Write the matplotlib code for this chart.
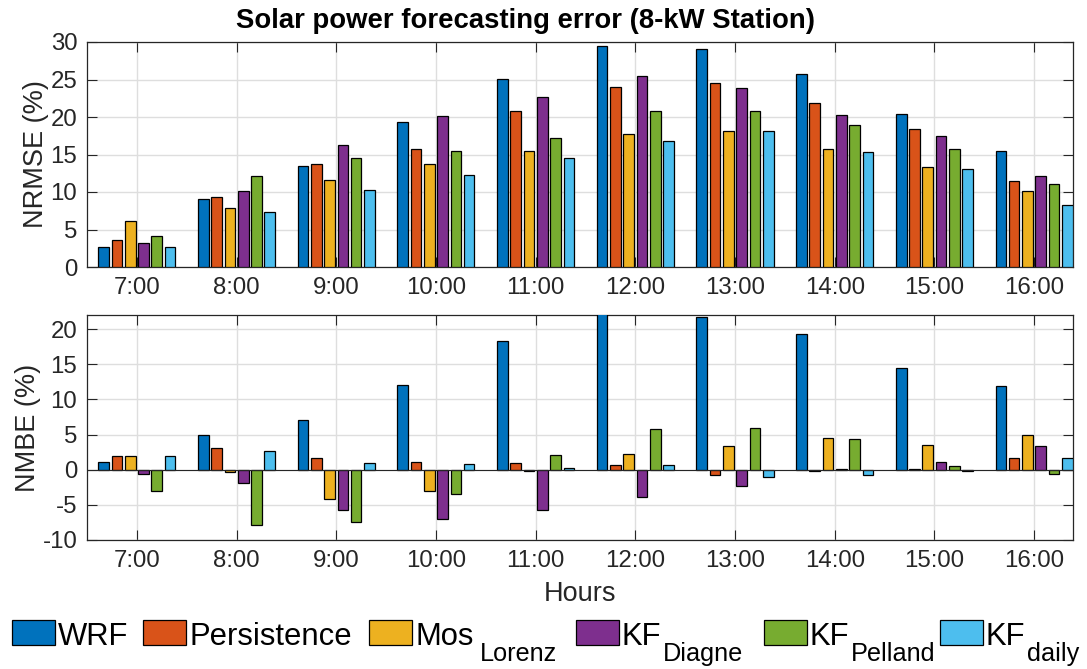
import matplotlib
matplotlib.use("Agg")
import matplotlib.pyplot as plt
from matplotlib.patches import Rectangle
import numpy as np

plt.rcParams['font.family'] = ['Liberation Sans', 'DejaVu Sans']
plt.rcParams['axes.unicode_minus'] = False

hours = ['7:00', '8:00', '9:00', '10:00', '11:00', '12:00', '13:00', '14:00', '15:00', '16:00']
models = ['WRF', 'Persistence', 'Mos', 'KF', 'KF', 'KF']
model_subs = ['', '', 'Lorenz', 'Diagne', 'Pelland', 'daily']
colors = ['#0072BD', '#D95319', '#EDB120', '#7E2F8E', '#77AC30', '#4DBEEE']

# NRMSE (%) per hour, one list per model
nrmse_wrf = [2.7, 9.1, 13.5, 19.4, 25.1, 29.5, 29.1, 25.8, 20.4, 15.5]
nrmse_pers = [3.6, 9.3, 13.8, 15.7, 20.8, 24.0, 24.6, 21.9, 18.4, 11.5]
nrmse_mos = [6.1, 7.9, 11.6, 13.8, 15.5, 17.8, 18.2, 15.8, 13.4, 10.2]
nrmse_kfd = [3.2, 10.1, 16.3, 20.2, 22.7, 25.5, 23.9, 20.3, 17.5, 12.2]
nrmse_kfp = [4.1, 12.2, 14.6, 15.5, 17.2, 20.8, 20.8, 18.9, 15.8, 11.1]
nrmse_kfdaily = [2.7, 7.3, 10.3, 12.3, 14.6, 16.8, 18.1, 15.3, 13.1, 8.3]

# NMBE (%) per hour
nmbe_wrf = [1.1, 4.9, 7.1, 12.1, 18.3, 23.1, 21.7, 19.3, 14.4, 11.9]
nmbe_pers = [2.0, 3.1, 1.6, 1.1, 0.9, 0.7, -0.7, -0.2, 0.03, 1.6]
nmbe_mos = [2.0, -0.3, -4.1, -3.1, -0.15, 2.3, 3.3, 4.5, 3.5, 4.9]
nmbe_kfd = [-0.6, -1.9, -5.8, -7.0, -5.7, -3.9, -2.3, 0.15, 1.1, 3.3]
nmbe_kfp = [-3.0, -7.9, -7.4, -3.4, 2.1, 5.8, 5.9, 4.3, 0.5, -0.6]
nmbe_kfdaily = [1.9, 2.6, 1.0, 0.8, 0.25, 0.7, -1.0, -0.7, -0.25, 1.6]

nrmse = [nrmse_wrf, nrmse_pers, nrmse_mos, nrmse_kfd, nrmse_kfp, nrmse_kfdaily]
nmbe = [nmbe_wrf, nmbe_pers, nmbe_mos, nmbe_kfd, nmbe_kfp, nmbe_kfdaily]

W, H = 1087, 669
fig = plt.figure(figsize=(W / 100, H / 100), dpi=100)
ax1 = fig.add_axes([87 / W, 1 - 267 / H, 986 / W, 225 / H])
ax2 = fig.add_axes([87 / W, 1 - 540 / H, 986 / W, 225 / H])

x = np.arange(1, len(hours) + 1)
step = 0.8 / 6
width = 0.8 * step
dark = '#262626'


def draw_bars(ax, series):
    for i, vals in enumerate(series):
        ax.bar(x + (i - 2.5) * step, vals, width, color=colors[i],
               edgecolor='black', linewidth=0.9, zorder=3)
    ax.set_xlim(0.5, 10.39)
    ax.set_xticks(x)
    ax.set_xticklabels(hours)
    ax.grid(True, color='#dedede', linewidth=1.0)
    ax.set_axisbelow(True)
    ax.tick_params(direction='in', length=7, width=0.8, colors=dark,
                   labelsize=17.3, top=True, right=True, pad=7)
    for s in ax.spines.values():
        s.set_color(dark)
        s.set_linewidth(0.9)


draw_bars(ax1, nrmse)
ax1.set_ylim(0, 30)
ax1.set_yticks(range(0, 31, 5))
ax1.set_ylabel('NRMSE (%)', fontsize=19.5, color=dark, labelpad=1)

draw_bars(ax2, nmbe)
ax2.axhline(0, color=dark, linewidth=0.8, zorder=4)
ax2.set_ylim(-10, 22)
ax2.set_yticks(range(-10, 21, 5))
ax2.set_ylabel('NMBE (%)', fontsize=19.5, color=dark, labelpad=1)
ax2.set_xlabel('Hours', fontsize=19.5, color=dark, labelpad=7)

fig.text(526 / W, 1 - 21 / H, 'Solar power forecasting error (8-kW Station)',
         fontsize=19.8, fontweight='bold', ha='center', va='center')

# legend laid out in a single row with subscripted names
fig.canvas.draw()
renderer = fig.canvas.get_renderer()
leg_left = [12, 143, 369, 576, 764, 940]
sub_gap = [0, 0, 6, 1, 1, 1]
for i in range(6):
    x0 = leg_left[i]
    fig.add_artist(Rectangle((x0 / W, 1 - 645 / H), 43 / W, 25 / H,
                             transform=fig.transFigure, facecolor=colors[i],
                             edgecolor='black', linewidth=0.9))
    t = fig.text((x0 + 46) / W, 1 - 645 / H, models[i], fontsize=22.3,
                 va='baseline', ha='left')
    if model_subs[i]:
        bb = t.get_window_extent(renderer)
        fig.text((bb.x1 + sub_gap[i]) / W, 1 - 661 / H, model_subs[i],
                 fontsize=18.2, va='baseline', ha='left')

fig.savefig('out.png', dpi=100)
